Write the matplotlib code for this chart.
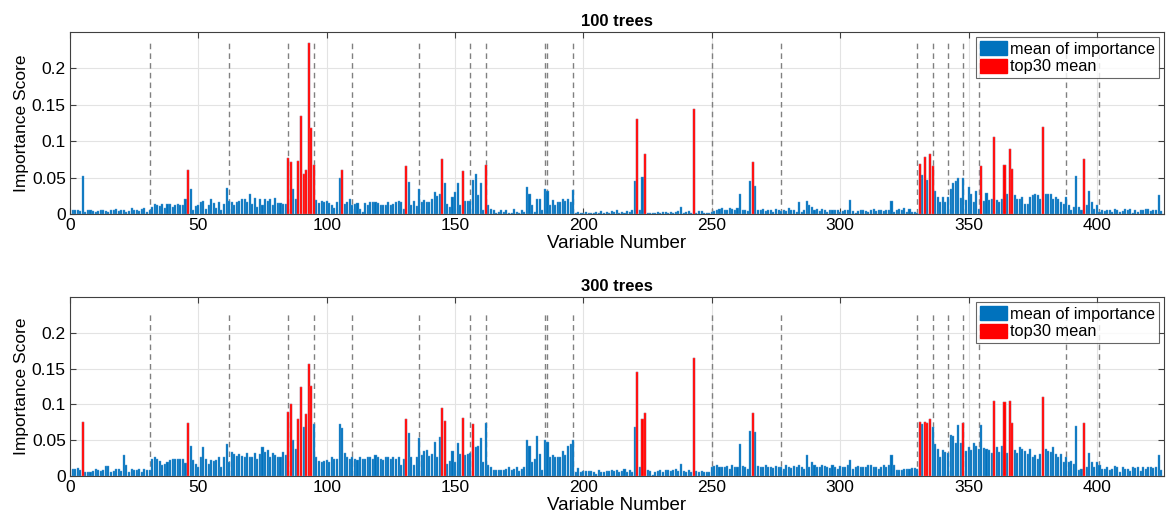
import matplotlib
matplotlib.use("Agg")
import matplotlib.pyplot as plt
import numpy as np
from matplotlib.patches import Patch

plt.rcParams["font.family"] = ["Liberation Sans", "DejaVu Sans"]

# --- data: mean importance per variable (1..425) ---
imp_100 = [
    0.005, 0.006, 0.005, 0.004, 0.052,
    0.003, 0.005, 0.005, 0.004, 0.003, 0.004, 0.006, 0.005, 0.004, 0.003,
    0.005, 0.006, 0.007, 0.004, 0.005, 0.006, 0.003, 0.004, 0.008, 0.005,
    0.006, 0.004, 0.007, 0.008, 0.003,
    0.005,
    0.010, 0.014, 0.012, 0.011, 0.014, 0.008, 0.014, 0.014, 0.010, 0.013, 0.014, 0.012, 0.013, 0.020,
    0.061, 0.035,
    0.005, 0.011, 0.013, 0.016, 0.018, 0.007, 0.012, 0.020, 0.015, 0.008, 0.016, 0.005, 0.014,
    0.036,
    0.018, 0.017, 0.012, 0.017, 0.018, 0.020, 0.021, 0.017, 0.027, 0.014, 0.022, 0.010,
    0.020, 0.013, 0.020, 0.018, 0.020, 0.012, 0.022, 0.015, 0.015, 0.014, 0.014,
    0.077, 0.072, 0.035, 0.020, 0.073, 0.134, 0.055, 0.061, 0.235, 0.118, 0.067,
    0.019, 0.015, 0.018, 0.017, 0.018, 0.015, 0.012, 0.008, 0.017,
    0.049, 0.060,
    0.014, 0.016, 0.021, 0.012, 0.014, 0.015, 0.007, 0.003, 0.015, 0.013, 0.016, 0.017,
    0.017, 0.015, 0.012, 0.012, 0.013, 0.016, 0.013, 0.014, 0.016, 0.018, 0.017, 0.007,
    0.066,
    0.044, 0.012, 0.018, 0.011, 0.035, 0.016, 0.019, 0.016, 0.017, 0.020, 0.030, 0.025, 0.028,
    0.076,
    0.042, 0.014, 0.009, 0.023, 0.030, 0.043, 0.012,
    0.059,
    0.018, 0.018, 0.018,
    0.047, 0.055, 0.026, 0.042, 0.005,
    0.067,
    0.012, 0.007, 0.006, 0.001, 0.003, 0.005, 0.003, 0.006, 0.002, 0.002, 0.007, 0.003, 0.001, 0.005, 0.003,
    0.037, 0.027, 0.012, 0.003, 0.021, 0.020, 0.005,
    0.035, 0.032, 0.012, 0.019, 0.012, 0.016, 0.017, 0.021, 0.018, 0.021, 0.017,
    0.033,
    0.002, 0.003, 0.002, 0.001, 0.003, 0.002, 0.001, 0.002, 0.003, 0.002, 0.004, 0.002,
    0.003, 0.002, 0.004, 0.003, 0.005, 0.002, 0.003, 0.002, 0.004, 0.003, 0.006,
    0.045, 0.130, 0.006, 0.051, 0.082,
    0.002, 0.001, 0.002, 0.002, 0.003, 0.002, 0.003, 0.003, 0.002, 0.003, 0.002, 0.003,
    0.004, 0.009, 0.002, 0.003, 0.004, 0.001,
    0.144,
    0.002, 0.004, 0.004, 0.002, 0.002, 0.002,
    0.003, 0.004, 0.005, 0.007, 0.008, 0.006, 0.005, 0.008, 0.007, 0.006, 0.008, 0.027, 0.005, 0.005, 0.004,
    0.045, 0.072, 0.038,
    0.005, 0.006, 0.007, 0.004, 0.006, 0.005, 0.003, 0.007, 0.005, 0.004, 0.006, 0.004,
    0.008, 0.006, 0.005, 0.003, 0.016, 0.003, 0.006, 0.018, 0.012, 0.010, 0.005, 0.007,
    0.004, 0.007, 0.006, 0.003, 0.006, 0.005, 0.006, 0.005, 0.003,
    0.004, 0.006, 0.005, 0.019, 0.004, 0.002, 0.004, 0.005, 0.006, 0.004, 0.003, 0.006,
    0.007, 0.004, 0.005, 0.006, 0.004, 0.006, 0.006, 0.018, 0.003, 0.005, 0.007, 0.005,
    0.008, 0.003, 0.007, 0.003, 0.003, 0.002,
    0.068, 0.053, 0.078, 0.046, 0.082, 0.066, 0.031,
    0.024, 0.016, 0.024, 0.016, 0.024, 0.035, 0.042, 0.045, 0.049, 0.022, 0.050,
    0.019, 0.037, 0.028, 0.016, 0.032, 0.007,
    0.066,
    0.018, 0.029, 0.019, 0.020,
    0.106,
    0.019, 0.016, 0.021,
    0.067, 0.028, 0.089, 0.062,
    0.026, 0.021, 0.020, 0.023, 0.014, 0.014, 0.023, 0.026, 0.028, 0.026, 0.021,
    0.119,
    0.028, 0.028, 0.028, 0.021, 0.023, 0.021, 0.016, 0.014, 0.023, 0.012, 0.005, 0.010,
    0.052, 0.010, 0.005,
    0.075,
    0.012, 0.031, 0.017, 0.007, 0.012,
    0.003, 0.005, 0.004, 0.005, 0.006, 0.003, 0.007, 0.005, 0.003, 0.004, 0.007, 0.005,
    0.007, 0.002, 0.005, 0.003, 0.005, 0.005, 0.007, 0.007, 0.004, 0.006, 0.005, 0.026, 0.004,
]

imp_300 = [
    0.010, 0.010, 0.011, 0.009, 0.075,
    0.006, 0.006, 0.006, 0.007, 0.010, 0.008, 0.007, 0.009, 0.014, 0.014,
    0.006, 0.007, 0.010, 0.010, 0.007,
    0.029,
    0.015, 0.006, 0.010, 0.008, 0.008, 0.010, 0.005, 0.010, 0.009,
    0.008,
    0.024, 0.027, 0.024, 0.021, 0.015, 0.017, 0.020, 0.022, 0.024, 0.024, 0.024, 0.024, 0.024, 0.018,
    0.074,
    0.042, 0.022, 0.017, 0.012, 0.027, 0.041, 0.024, 0.017, 0.023, 0.021, 0.022, 0.027, 0.012, 0.027,
    0.045,
    0.019, 0.033, 0.031, 0.028, 0.031, 0.028, 0.026, 0.032, 0.026, 0.027, 0.032, 0.024,
    0.031, 0.040, 0.033, 0.036, 0.027, 0.032, 0.029, 0.027, 0.026, 0.033, 0.030,
    0.089, 0.101, 0.050, 0.038, 0.079, 0.125, 0.069, 0.086, 0.157, 0.126, 0.073,
    0.026, 0.021, 0.020, 0.021, 0.022, 0.020, 0.026, 0.024, 0.024,
    0.072, 0.067,
    0.032, 0.027, 0.024, 0.027, 0.024, 0.023, 0.026, 0.024, 0.024, 0.027, 0.026, 0.024,
    0.029, 0.026, 0.024, 0.023, 0.026, 0.027, 0.024, 0.026, 0.024, 0.027, 0.016, 0.024,
    0.079,
    0.060, 0.026, 0.016, 0.026, 0.053, 0.029, 0.035, 0.036, 0.028, 0.031, 0.047, 0.026, 0.054,
    0.095, 0.077,
    0.017, 0.021, 0.035, 0.019, 0.046, 0.031,
    0.081,
    0.030, 0.031, 0.032,
    0.073,
    0.041, 0.042, 0.053, 0.020,
    0.074,
    0.015, 0.012, 0.009, 0.008, 0.009, 0.009, 0.009, 0.010, 0.012, 0.008, 0.010, 0.012, 0.007, 0.010, 0.012,
    0.051, 0.042, 0.020, 0.024, 0.056, 0.031, 0.008,
    0.050, 0.048, 0.027, 0.030, 0.027, 0.027, 0.027, 0.035, 0.030, 0.042, 0.045,
    0.050,
    0.006, 0.011, 0.005, 0.007, 0.007, 0.007, 0.007, 0.005, 0.003, 0.008, 0.005, 0.005,
    0.007, 0.007, 0.008, 0.007, 0.009, 0.005, 0.007, 0.010, 0.006, 0.008, 0.005,
    0.068, 0.146, 0.012, 0.079, 0.088,
    0.008, 0.007, 0.001, 0.005, 0.007, 0.008, 0.005, 0.009, 0.009, 0.007, 0.008, 0.010,
    0.007, 0.017, 0.007, 0.005, 0.008, 0.006,
    0.165,
    0.007, 0.005, 0.007, 0.005, 0.005, 0.006,
    0.012, 0.014, 0.015, 0.012, 0.012, 0.012, 0.014, 0.010, 0.016, 0.012, 0.013, 0.045, 0.014, 0.013, 0.010,
    0.063, 0.088, 0.062,
    0.014, 0.013, 0.012, 0.015, 0.012, 0.013, 0.011, 0.014, 0.013, 0.012, 0.010, 0.015,
    0.013, 0.011, 0.014, 0.012, 0.016, 0.012, 0.010, 0.030, 0.013, 0.020, 0.015, 0.013,
    0.012, 0.016, 0.014, 0.013, 0.011, 0.015, 0.012, 0.010, 0.014,
    0.013, 0.012, 0.016, 0.023, 0.010, 0.012, 0.014, 0.013, 0.012, 0.013, 0.016, 0.015,
    0.012, 0.013, 0.010, 0.012, 0.015, 0.013, 0.016, 0.030, 0.015, 0.009, 0.008, 0.008,
    0.010, 0.010, 0.010, 0.011, 0.011, 0.010,
    0.075, 0.072, 0.075, 0.074, 0.079, 0.068, 0.045,
    0.038, 0.027, 0.037, 0.033, 0.032, 0.057, 0.056, 0.046, 0.071, 0.046, 0.074,
    0.035, 0.041, 0.036, 0.046, 0.042, 0.038,
    0.071,
    0.039, 0.038, 0.036, 0.032,
    0.105,
    0.040, 0.034, 0.042,
    0.104, 0.032, 0.105, 0.074,
    0.036, 0.032, 0.040, 0.038, 0.035, 0.031, 0.038, 0.027, 0.029, 0.024, 0.031,
    0.110,
    0.038, 0.035, 0.033, 0.041, 0.031, 0.026, 0.031, 0.019, 0.026, 0.019, 0.021, 0.017,
    0.070, 0.008, 0.010,
    0.074,
    0.012, 0.032, 0.019, 0.012, 0.020,
    0.016, 0.010, 0.010, 0.012, 0.008, 0.010, 0.014, 0.013, 0.005, 0.012, 0.010, 0.010,
    0.007, 0.012, 0.011, 0.012, 0.007, 0.013, 0.010, 0.013, 0.012, 0.011, 0.012, 0.029, 0.008,
]

# indices of the 30 top variables
top30_100 = [46, 85, 86, 89, 90, 91, 92, 93, 94, 95, 106, 131, 145, 153, 162,
             221, 224, 243, 266, 331, 333, 335, 336, 355, 360, 364, 366, 367, 379, 395]
top30_300 = [5, 46, 85, 86, 89, 90, 92, 93, 94, 131, 145, 146, 153, 157, 221,
             223, 224, 243, 266, 331, 333, 334, 335, 348, 360, 364, 366, 367, 379, 395]

# group boundaries (dashed lines)
bounds = [31, 62, 85, 95, 110, 136, 156, 162, 185, 186, 196, 250, 277,
          330, 336, 342, 348, 354, 388, 401]

titles = ["100 trees", "300 trees"]
yticks = [0, 0.05, 0.1, 0.15, 0.2]
ytick_labels = ["0", "0.05", "0.1", "0.15", "0.2"]
xticks = [0, 50, 100, 150, 200, 250, 300, 350, 400]

BLUE = "#0072BD"
RED = "#FF0000"

fig = plt.figure(figsize=(11.66, 5.22), dpi=100)
axes = [fig.add_axes([0.060, 0.590, 0.938, 0.349]),
        fig.add_axes([0.060, 0.088, 0.938, 0.343])]

for ax, vals, top, title, dtop in zip(axes, [imp_100, imp_300], [top30_100, top30_300],
                                      titles, [0.24, 0.23]):
    vals = np.array(vals)
    x = np.arange(1, len(vals) + 1)
    ax.vlines(bounds, 0, dtop, colors="#808080", linestyles=(0, (4, 3)), lw=1.0, zorder=1)
    ax.bar(x, vals, width=0.8, color=BLUE, edgecolor="#5aa0d8", linewidth=0.3, zorder=2)
    idx = np.array(top)
    ax.bar(idx, vals[idx - 1], width=0.8, color=RED, edgecolor="#ff6060", linewidth=0.3, zorder=3)

    ax.set_xlim(0, 426)
    ax.set_ylim(0, 0.25)
    ax.set_xticks(xticks)
    ax.set_yticks(yticks)
    ax.set_yticklabels(ytick_labels)
    ax.tick_params(direction="in", top=True, right=True, labelsize=12.5, length=4,
                   color="#404040", pad=3)
    ax.grid(True, color="#e3e3e3", lw=0.8, zorder=0)
    ax.set_axisbelow(True)
    for s in ax.spines.values():
        s.set_color("#404040")
        s.set_linewidth(0.8)
    ax.set_title(title, fontsize=12, fontweight="bold", pad=4)
    ax.set_xlabel("Variable Number", fontsize=13.5, labelpad=1)
    ax.set_ylabel("Importance Score", fontsize=12.5, labelpad=2)

    handles = [Patch(facecolor=BLUE, edgecolor=BLUE), Patch(facecolor=RED, edgecolor=RED)]
    leg = ax.legend(handles, ["mean of importance", "top30 mean"], loc="upper right",
                    fontsize=11.8, frameon=True, fancybox=False, borderpad=0.25,
                    handlelength=1.65, handleheight=0.95, handletextpad=0.15,
                    labelspacing=0.12, borderaxespad=0.3)
    leg.get_frame().set_edgecolor("#404040")
    leg.get_frame().set_linewidth(0.8)

fig.savefig("out.png", dpi=100, facecolor="white")
